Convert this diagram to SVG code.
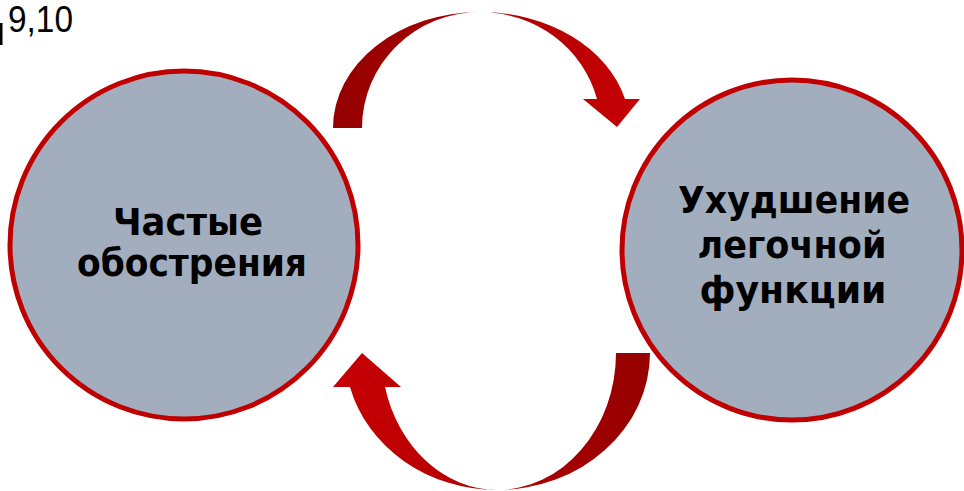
<svg xmlns="http://www.w3.org/2000/svg" width="964" height="491" viewBox="0 0 964 491">
<style>
.node circle{fill:#a2aebe;stroke:#c00000;stroke-width:5}
.lbl{font-family:"DejaVu Sans","Noto Sans",sans-serif;font-weight:bold;font-size:37px;fill:#000;text-anchor:middle}
.ref{font-family:"Liberation Sans",Arial,sans-serif;font-size:37px;fill:#000}
</style>
<defs>
<linearGradient id="gTop" x1="333" y1="0" x2="640" y2="0" gradientUnits="userSpaceOnUse">
<stop offset="0" stop-color="#950000"/><stop offset="0.45" stop-color="#a80000"/><stop offset="1" stop-color="#c70005"/>
</linearGradient>
<linearGradient id="gBot" x1="333" y1="0" x2="650" y2="0" gradientUnits="userSpaceOnUse">
<stop offset="0" stop-color="#c70005"/><stop offset="0.5" stop-color="#b30000"/><stop offset="1" stop-color="#950000"/>
</linearGradient>
</defs>
<rect width="964" height="491" fill="#fff"/>
<g id="ref-note">
<rect x="0" y="23" width="2.5" height="22" fill="#000"/>
<text class="ref" x="8" y="32" textLength="65" lengthAdjust="spacingAndGlyphs">9,10</text>
</g>
<g id="connectors">
<path d="M333,128 A147,116 0 0 1 480,12 A150,116 0 0 1 625,99 L640,99 L617,127 L583,99 L597,99 A121,116 0 0 0 480,12 A118,116 0 0 0 362,128 Z" fill="url(#gTop)"/>
<path d="M650,353 A153,137 0 0 1 497,490 A152,137 0 0 1 350,387 L333,387 L362,353 L401,387 L385,387 A116,137 0 0 0 497,490 A119,137 0 0 0 616,353 Z" fill="url(#gBot)"/>
</g>
<g id="node-left" class="node">
<circle cx="184" cy="245" r="174"/>
<text class="lbl" x="188" y="235" textLength="150" lengthAdjust="spacingAndGlyphs">Частые</text>
<text class="lbl" x="192" y="276" textLength="230" lengthAdjust="spacingAndGlyphs">обострения</text>
</g>
<g id="node-right" class="node">
<circle cx="792" cy="250" r="170"/>
<text class="lbl" x="794" y="213" textLength="232" lengthAdjust="spacingAndGlyphs">Ухудшение</text>
<text class="lbl" x="792" y="258" textLength="189" lengthAdjust="spacingAndGlyphs">легочной</text>
<text class="lbl" x="793" y="303" textLength="187" lengthAdjust="spacingAndGlyphs">функции</text>
</g>
</svg>
